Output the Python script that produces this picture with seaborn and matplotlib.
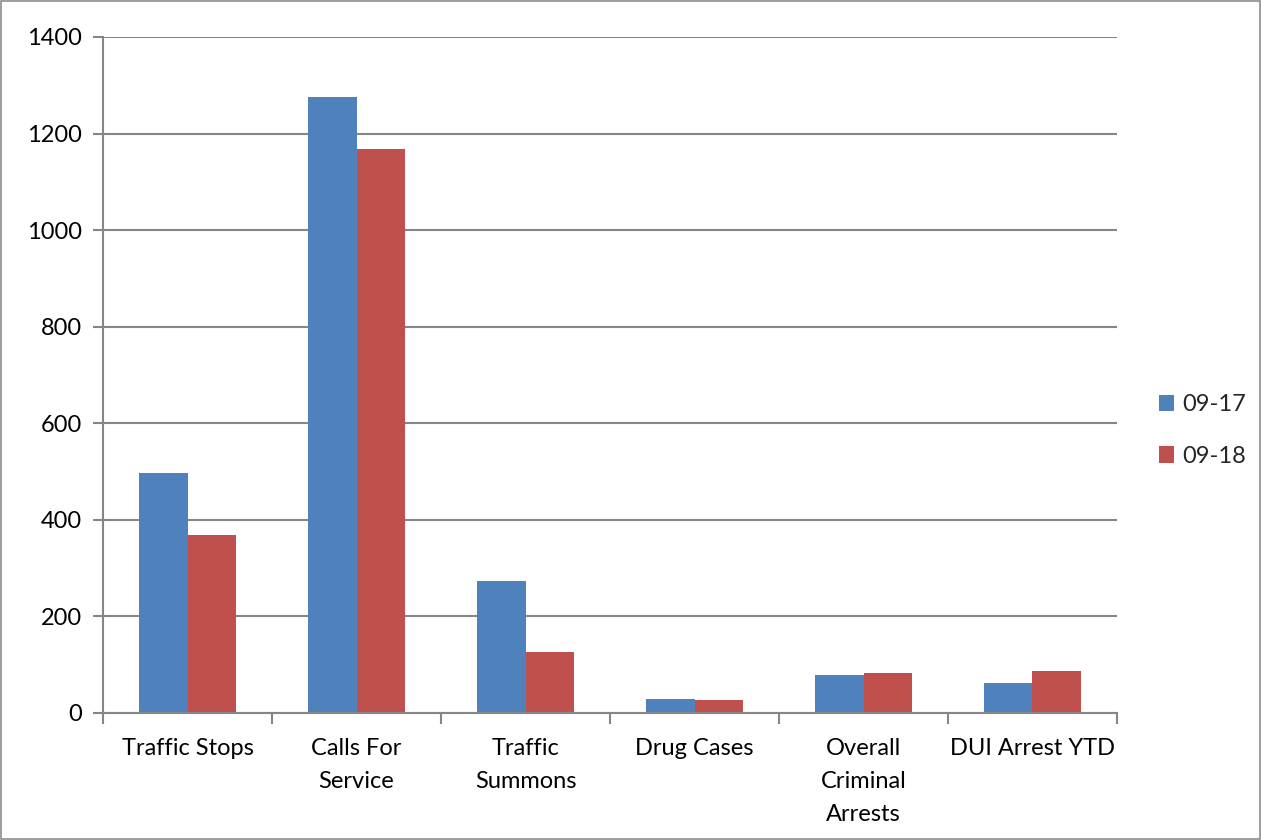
import matplotlib.pyplot as plt
import numpy as np
import pandas as pd
import seaborn as sns
from matplotlib.patches import Rectangle

# Data
categories = ['Traffic Stops', 'Calls For\nService', 'Traffic\nSummons', 'Drug Cases',
              'Overall\nCriminal\nArrests', 'DUI Arrest YTD']
series_names = ['09-17', '09-18']
values_0917 = [498, 1276, 274, 30, 79, 62]
values_0918 = [368, 1167, 127, 27, 83, 87]
colors = ['#4F81BD', '#C0504D']

df = pd.DataFrame({
    'category': categories * 2,
    'series': [series_names[0]] * len(categories) + [series_names[1]] * len(categories),
    'value': values_0917 + values_0918,
})

sns.set_style('white')
plt.rcParams['font.family'] = ['Lato', 'DejaVu Sans']

fig = plt.figure(figsize=(12.61, 8.40), dpi=100)
ax = fig.add_axes([0.0817, 0.1512, 0.8041, 0.8048])

sns.barplot(data=df, x='category', y='value', hue='series', order=categories,
            hue_order=series_names, palette=colors, width=0.575, gap=0,
            saturation=1, linewidth=0, ax=ax)

grid_col = '#868686'
fs = 17
ax.set_ylim(0, 1400)
ax.set_xlim(-0.5, len(categories) - 0.5)
ax.set_yticks(np.arange(0, 1401, 200))
ax.yaxis.grid(True, color=grid_col, linewidth=1.5)
ax.set_axisbelow(True)
ax.set_xlabel('')
ax.set_ylabel('')

for side in ['top', 'right']:
    ax.spines[side].set_visible(False)
for side in ['left', 'bottom']:
    ax.spines[side].set_color(grid_col)
    ax.spines[side].set_linewidth(1.5)

# category boundary ticks on the x axis
ax.set_xticks(np.arange(-0.5, len(categories), 1), minor=True)
ax.tick_params(axis='x', which='minor', length=8, width=1.5, color=grid_col, direction='out')
ax.tick_params(axis='x', which='major', length=0, pad=18, labelsize=fs, labelcolor='black')
ax.tick_params(axis='y', which='major', length=7, width=1.5, color=grid_col, direction='out',
               labelsize=fs, labelcolor='black', pad=8)
ax.tick_params(axis='y', left=True)
ax.tick_params(axis='x', bottom=True, which='minor')
for lbl in ax.get_xticklabels():
    lbl.set_linespacing(1.7)

leg = ax.legend(loc='center left', bbox_to_anchor=(1.02, 0.418), frameon=False,
                fontsize=fs, handlelength=0.65, handleheight=0.7, handletextpad=0.35,
                labelspacing=1.3)

# grey outer border of the chart
fig.patches.append(Rectangle((0.0008, 0.0012), 0.9984, 0.9976, transform=fig.transFigure,
                             fill=False, edgecolor='#8c8c8c', linewidth=1.2))

fig.savefig('out.png', dpi=100)
